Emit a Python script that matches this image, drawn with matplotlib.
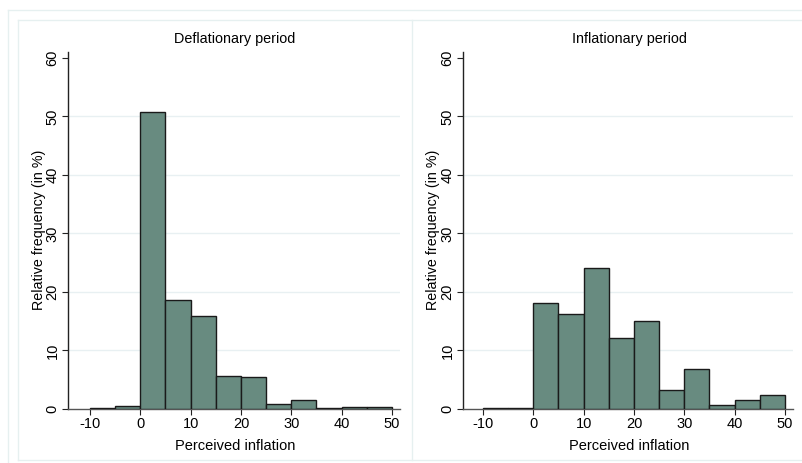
import numpy as np
import matplotlib.pyplot as plt
from matplotlib.lines import Line2D

plt.rcParams['font.family'] = ['Liberation Sans', 'DejaVu Sans']

bin_left = [-10, -5, 0, 5, 10, 15, 20, 25, 30, 35, 40, 45]
deflation = [0.1, 0.5, 50.8, 18.7, 15.9, 5.7, 5.4, 0.8, 1.6, 0.1, 0.3, 0.3]
inflation = [0.1, 0.2, 18.1, 16.2, 24.1, 12.1, 15.0, 3.2, 6.9, 0.7, 1.5, 2.4]
titles = ["Deflationary period", "Inflationary period"]
xticks = [-10, 0, 10, 20, 30, 40, 50]
yticks = [0, 10, 20, 30, 40, 50, 60]

W, H = 802, 463
fig = plt.figure(figsize=(W / 100, H / 100), dpi=100)
fig.patch.set_facecolor('white')

frame_c = '#e6f0f0'
grid_c = '#e8f0f2'
bar_c = '#688b80'

def px(x0, x1, y0, y1):
    # pixel box -> figure fraction
    return [x0 / W, 1 - y1 / H, (x1 - x0) / W, (y1 - y0) / H]

def hline(x0, x1, y):
    fig.add_artist(Line2D([x0 / W, x1 / W], [1 - y / H, 1 - y / H], color=frame_c, lw=1))

def vline(x, y0, y1):
    fig.add_artist(Line2D([x / W, x / W], [1 - y0 / H, 1 - y1 / H], color=frame_c, lw=1))

# outer + panel frames
hline(8, W, 10)
vline(8, 10, H)
hline(18, W, 20)
vline(18, 20, 460)
vline(412, 20, 460)
hline(18, W, 460)

panels = [(px(68, 400, 52, 409), -14.37, deflation, 38, 235),
          (px(463, 793, 52, 409), -13.97, inflation, 432, 629)]

for i, (box, xmin, vals, ylab_x, cx) in enumerate(panels):
    ax = fig.add_axes(box)
    ax.set_facecolor('none')
    ax.bar(bin_left, vals, width=5, align='edge', color=bar_c,
           edgecolor='#1a1a1a', linewidth=1.0, zorder=3)
    ax.set_xlim(xmin, 51.6)
    ax.set_ylim(0, 61)
    for y in yticks[1:-1]:
        ax.axhline(y, color=grid_c, lw=1, zorder=1)
    for s in ['top', 'right']:
        ax.spines[s].set_visible(False)
    ax.spines['left'].set_color('#222222')
    ax.spines['bottom'].set_color('#555555')
    ax.spines['left'].set_linewidth(1.0)
    ax.spines['bottom'].set_linewidth(1.0)
    ax.set_xticks(xticks)
    ax.set_yticks(yticks)
    ax.set_xticklabels([str(t) for t in xticks], fontsize=10.5)
    ax.set_yticklabels([str(t) for t in yticks], fontsize=10.5, rotation=90, va='center')
    ax.tick_params(axis='both', length=4, width=0.8, color='#222222', pad=2)
    fig.text(cx / W, 1 - 39 / H, titles[i], ha='center', va='center', fontsize=10.4)
    fig.text(cx / W, 1 - 446 / H, "Perceived inflation", ha='center', va='center', fontsize=10.5)
    fig.text((ylab_x + 1) / W, 1 - 230 / H, "Relative frequency (in %)", ha='center', va='center',
             rotation=90, fontsize=10.3)

fig.savefig("out.png", dpi=100)
